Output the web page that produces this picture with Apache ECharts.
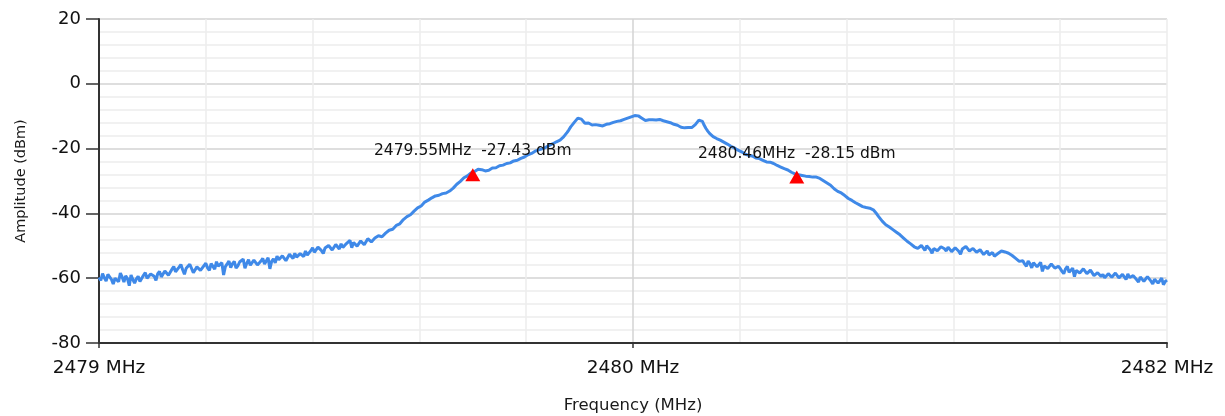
<!DOCTYPE html>
<html>
<head>
<meta charset="utf-8">
<script src="https://cdn.jsdelivr.net/npm/echarts@6/dist/echarts.min.js"></script>
<style>
  html, body { margin: 0; padding: 0; background: #ffffff; }
  #chart { width: 1225px; height: 416px; }
</style>
</head>
<body>
<div id="chart"></div>
<script>
// ---- data ----
const freqStart = 2478.5;   // MHz, left edge of sweep
const freqStep = 0.005;     // MHz between sweep points
const amplitude = [
  -59.8, -60.7, -58.6, -59.9, -60.9, -58.8, -59.2, -60.4, -61.8, -60.0, -59.5, -61.1, -58.4, -59.6, -61.2, -59.3, -60.1, -62.3, -59.0, -60.4,
  -61.5, -60.2, -59.4, -61.0, -60.6, -59.1, -58.3, -60.0, -59.9, -58.7, -58.1, -59.4, -60.7, -58.6, -57.9, -59.6, -59.0, -57.8, -57.4, -59.1,
  -58.6, -57.2, -56.4, -58.0, -57.9, -56.6, -55.8, -57.4, -58.8, -56.9, -57.0, -55.7, -56.2, -58.3, -57.8, -56.5, -55.9, -57.6, -57.3, -56.1,
  -55.4, -56.8, -57.6, -55.5, -56.0, -57.2, -54.9, -56.3, -56.8, -55.2, -59.0, -56.4, -55.6, -54.7, -56.7, -55.5, -54.8, -56.9, -56.2, -55.0,
  -55.0, -54.1, -56.9, -55.4, -54.3, -56.0, -55.8, -54.4, -54.6, -55.9, -56.3, -54.7, -53.9, -55.6, -55.2, -53.7, -57.1, -54.8, -54.0, -55.3,
  -53.2, -54.3, -54.8, -53.1, -52.9, -54.6, -54.1, -52.6, -53.0, -53.9, -52.3, -53.5, -54.0, -52.4, -52.1, -53.3, -51.6, -52.9, -52.8, -51.5,
  -50.6, -52.0, -51.8, -50.4, -50.3, -51.5, -52.4, -50.7, -50.9, -49.9, -49.8, -51.3, -51.2, -49.6, -50.0, -51.0, -49.4, -50.5, -50.7, -49.3,
  -49.2, -48.3, -50.6, -49.0, -48.7, -50.1, -49.8, -48.5, -48.4, -49.7, -49.3, -47.8, -47.9, -48.8, -49.0, -47.6, -48.1, -46.9, -47.3, -47.2,
  -46.8, -46.1, -45.9, -45.2, -44.8, -44.9, -44.6, -43.7, -43.2, -43.2, -42.8, -41.9, -41.3, -41.0, -40.6, -40.4, -39.9, -39.3, -38.9, -38.3,
  -37.9, -37.7, -37.2, -36.5, -36.1, -35.9, -35.6, -35.2, -35.0, -34.6, -34.4, -34.4, -34.2, -33.9, -33.9, -33.7, -33.4, -33.1, -32.6, -32.2,
  -31.6, -31.0, -30.5, -30.1, -29.6, -29.0, -28.6, -28.4, -28.0, -27.5, -27.3, -27.1, -26.8, -26.4, -26.3, -26.5, -26.6, -26.9, -27.0, -26.7,
  -26.4, -26.0, -25.9, -25.9, -25.7, -25.3, -25.0, -25.1, -24.9, -24.6, -24.5, -24.4, -24.1, -23.8, -23.6, -23.6, -23.4, -23.0, -22.8, -22.6,
  -22.3, -21.9, -21.6, -21.5, -21.3, -20.8, -20.5, -20.4, -20.2, -20.1, -19.9, -19.6, -19.4, -19.0, -18.7, -18.5, -18.1, -17.9, -17.6, -17.4,
  -16.9, -16.4, -15.8, -15.0, -14.2, -13.3, -12.6, -11.9, -11.4, -10.6, -10.5, -10.9, -11.3, -12.2, -12.6, -12.1, -12.2, -12.7, -12.9, -12.6,
  -13.1, -12.8, -12.7, -13.0, -12.9, -12.5, -12.3, -12.3, -12.0, -11.9, -11.8, -11.6, -11.4, -11.4, -11.1, -11.0, -10.8, -10.6, -10.3, -10.2,
  -10.0, -9.8, -9.7, -9.9, -10.2, -10.6, -11.0, -11.3, -11.4, -11.1, -11.2, -11.1, -11.0, -11.2, -11.3, -11.0, -11.1, -11.4, -11.5, -11.7,
  -12.0, -12.0, -12.2, -12.5, -12.6, -12.8, -13.1, -13.4, -13.5, -13.6, -13.4, -13.5, -13.6, -13.5, -13.2, -12.6, -12.0, -11.2, -10.9, -11.6,
  -12.8, -13.8, -14.6, -15.3, -15.8, -16.3, -16.6, -16.9, -17.2, -17.4, -17.6, -18.0, -18.3, -18.6, -18.9, -19.3, -19.6, -19.8, -20.2, -20.5,
  -20.8, -21.0, -21.4, -21.7, -21.9, -22.1, -22.2, -22.3, -22.6, -22.9, -23.1, -23.1, -23.3, -23.6, -23.9, -24.1, -24.2, -24.2, -24.4, -24.6,
  -24.9, -25.2, -25.4, -25.7, -25.9, -26.2, -26.4, -26.6, -26.9, -27.3, -27.5, -27.8, -28.0, -28.1, -28.3, -28.3, -28.4, -28.5, -28.6, -28.6,
  -28.7, -28.8, -28.9, -28.8, -29.0, -29.2, -29.6, -29.9, -30.3, -30.6, -31.0, -31.3, -31.8, -32.4, -32.9, -33.2, -33.5, -33.7, -34.0, -34.5,
  -35.0, -35.4, -35.8, -36.0, -36.3, -36.7, -37.0, -37.3, -37.6, -37.9, -38.1, -38.2, -38.3, -38.4, -38.6, -38.9, -39.5, -40.2, -41.0, -41.7,
  -42.4, -43.0, -43.5, -43.8, -44.2, -44.6, -45.0, -45.4, -45.8, -46.2, -46.6, -47.1, -47.6, -48.1, -48.6, -49.0, -49.4, -49.9, -50.3, -50.6,
  -50.8, -51.3, -49.9, -50.5, -51.4, -50.0, -50.2, -51.2, -52.3, -50.8, -50.6, -51.5, -51.0, -50.3, -49.8, -50.9, -51.6, -50.4, -50.9, -51.8,
  -51.5, -50.6, -50.4, -51.7, -52.6, -51.0, -51.1, -50.2, -50.7, -51.6, -51.8, -50.8, -50.9, -52.0, -52.1, -51.2, -51.3, -52.7, -52.4, -51.6,
  -52.8, -52.3, -52.1, -53.2, -53.0, -52.4, -52.2, -51.6, -51.7, -51.9, -52.0, -52.3, -52.6, -53.0, -53.4, -53.9, -54.3, -54.8, -55.0, -54.6,
  -55.6, -56.3, -54.7, -55.5, -56.8, -55.2, -55.4, -56.5, -56.0, -55.1, -57.9, -56.2, -55.8, -57.0, -56.6, -55.6, -55.9, -56.9, -57.3, -56.3,
  -57.0, -57.9, -58.6, -57.1, -56.4, -58.2, -57.8, -56.9, -59.5, -57.6, -57.2, -58.4, -58.3, -57.1, -57.0, -58.6, -58.9, -57.5, -58.1, -59.2,
  -59.4, -58.3, -57.9, -59.5, -58.8, -59.9, -60.5, -58.6, -58.2, -59.7, -59.6, -58.4, -58.5, -59.9, -60.2, -58.8, -59.0, -60.4, -58.7, -59.8,
  -60.3, -59.2, -59.1, -60.5, -61.2, -59.6, -59.8, -61.0, -60.6, -59.5, -59.4, -60.9, -61.8, -60.3, -60.2, -61.5, -61.0, -60.0, -62.0, -61.0,
  -60.6
];
const markerFreqs = [2479.55, 2480.46];
const markerAmps = [-27.43, -28.15];
const xMin = 2478.5, xMax = 2481.5, xLabelStep = 1.5;
const yMin = -80, yMax = 20, yMajor = 20, yMinor = 4;
const xGridDivisions = 10;

// ---- build series ----
const traceData = amplitude.map((a, i) => [+(freqStart + i * freqStep).toFixed(4), a]);
const markerData = markerFreqs.map((f, i) => [f, markerAmps[i]]);

const FONT = 'DejaVu Sans';
const minor = '#ececec', major = '#d3d3d3';
const xGridColors = [];
for (let i = 0; i < xGridDivisions; i++) xGridColors.push(i === xGridDivisions / 2 ? major : minor);

const chart = echarts.init(document.getElementById('chart'), null, { renderer: 'canvas' });
chart.setOption({
  animation: false,
  backgroundColor: '#ffffff',
  grid: { left: 99, right: 58, top: 19, bottom: 73, containLabel: false, outerBoundsMode: 'none' },
  xAxis: [
    {
      type: 'value', min: xMin, max: xMax, interval: xLabelStep,
      name: 'Frequency (MHz)', nameLocation: 'middle', nameGap: 54,
      nameTextStyle: { fontFamily: FONT, fontSize: 16.5, color: '#1a1a1a' },
      axisLine: { show: true, onZero: false, lineStyle: { color: '#333', width: 2 } },
      axisTick: { show: true, inside: false, length: 5, lineStyle: { color: '#333', width: 1.5 } },
      axisLabel: {
        show: true, margin: 16, fontFamily: FONT, fontSize: 18.5, color: '#111',
        showMinLabel: true, showMaxLabel: true,
        formatter: v => Math.round(v) + ' MHz'
      },
      splitLine: { show: false }
    },
    {
      type: 'value', min: 0, max: xGridDivisions, interval: 1, position: 'bottom',
      axisLine: { show: false }, axisTick: { show: false }, axisLabel: { show: false },
      splitLine: { show: true, lineStyle: { color: xGridColors, width: 1.5 } }
    }
  ],
  yAxis: [
    {
      type: 'value', min: yMin, max: yMax, interval: yMajor,
      name: 'Amplitude (dBm)', nameLocation: 'middle', nameGap: 70, nameRotate: 90,
      nameTextStyle: { fontFamily: FONT, fontSize: 14.5, color: '#1a1a1a' },
      axisLine: { show: true, onZero: false, lineStyle: { color: '#333', width: 2 } },
      axisTick: { show: true, inside: false, length: 13, lineStyle: { color: '#333', width: 1.5 } },
      axisLabel: { show: true, margin: 18, fontFamily: FONT, fontSize: 18, color: '#111' },
      splitLine: { show: false }
    },
    {
      type: 'value', min: yMin, max: yMax, interval: yMinor, position: 'left',
      axisLine: { show: false }, axisTick: { show: false }, axisLabel: { show: false },
      splitLine: { show: true, lineStyle: { color: [major, minor, minor, minor, minor], width: 1.5 } }
    }
  ],
  series: [
    {
      type: 'line', name: 'trace', xAxisIndex: 0, yAxisIndex: 0,
      data: traceData, showSymbol: false, smooth: false,
      lineStyle: { color: '#3f89e8', width: 3 }, z: 3
    },
    {
      type: 'scatter', name: 'markers', xAxisIndex: 0, yAxisIndex: 0,
      data: markerData, symbol: 'triangle', symbolSize: [15, 13], symbolOffset: [0, 2],
      itemStyle: { color: '#ff0000', opacity: 1 }, z: 5,
      label: {
        show: true, position: 'top', distance: 9, opacity: 1,
        fontFamily: FONT, fontSize: 15.5, color: '#111',
        formatter: p => markerFreqs[p.dataIndex].toFixed(2) + 'MHz  ' + markerAmps[p.dataIndex].toFixed(2) + ' dBm'
      }
    }
  ]
});
</script>
</body>
</html>
